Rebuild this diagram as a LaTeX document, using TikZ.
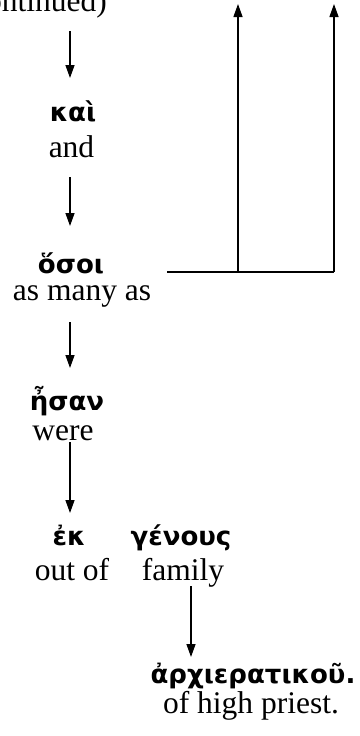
\documentclass[tikz,border=0pt]{standalone}
\usepackage{fontspec}
\setmainfont{Liberation Serif}
\newfontfamily\grk{DejaVu Sans Bold}
\usetikzlibrary{arrows.meta,calc}

\tikzset{
	word/.style={anchor=base, inner sep=0pt, font=\grk\fontsize{26}{31}\selectfont},
	gloss/.style={anchor=base, inner sep=0pt, font=\fontsize{31.5}{36}\selectfont},
	arr/.style={line width=1.3pt, -{Triangle[width=9pt,length=13pt]}},
	link/.style={line width=1.3pt}
}

\begin{document}
\begin{tikzpicture}[x=1pt, y=-1pt]
		\useasboundingbox (0,0) rectangle (359,736);
		\coordinate (spine) at (70,0);
		\coordinate (spine2) at (191,0);

		% words and glosses
		\node[gloss, anchor=base east] (cont) at (107,12) {(continued)};
		\node[word] (kai) at (73,121) {καὶ};
		\node[gloss] (and) at (71.5,157) {and};
		\node[word] (osoi) at (71,273) {ὅσοι};
		\node[gloss] (many) at (82,300) {as many as};
		\node[word] (esan) at (67,410) {ἦσαν};
		\node[gloss] (were) at (63,440) {were};
		\node[word] (ek) at (69,545) {ἐκ};
		\node[gloss] (outof) at (72,580) {out of};
		\node[word] (genous) at (181,545) {γένους};
		\node[gloss] (family) at (183,580) {family};
		\node[word] (arch) at (253,683) {ἀρχιερατικοῦ.};
		\node[gloss] (priest) at (251,713) {of high priest.};

		% main line down the left
		\draw[arr] ($(spine |- cont.base)+(0,19)$) -- ($(spine |- kai.base)+(0,-43)$);
		\draw[arr] ($(spine |- and.base)+(0,20)$) -- ($(spine |- osoi.base)+(0,-47)$);
		\draw[arr] ($(spine |- many.base)+(0,22)$) -- ($(spine |- esan.base)+(0,-42)$);
		\draw[arr] ($(spine |- were.base)+(0,2)$) -- ($(spine |- ek.base)+(0,-32)$);
		\draw[arr] ($(spine2 |- family.base)+(0,6)$) -- ($(spine2 |- arch.base)+(0,-26)$);

		% bracket going back up
		\coordinate (barl) at (167,272);
		\coordinate (barm) at (238,272);
		\coordinate (barr) at (334,272);
		\coordinate (upm) at (238,4);
		\coordinate (upr) at (334,4);
		\draw[link] (barl) -- (barr);
		\draw[arr] (barm) -- (upm);
		\draw[arr] (barr) -- (upr);
	\end{tikzpicture}
\end{document}
